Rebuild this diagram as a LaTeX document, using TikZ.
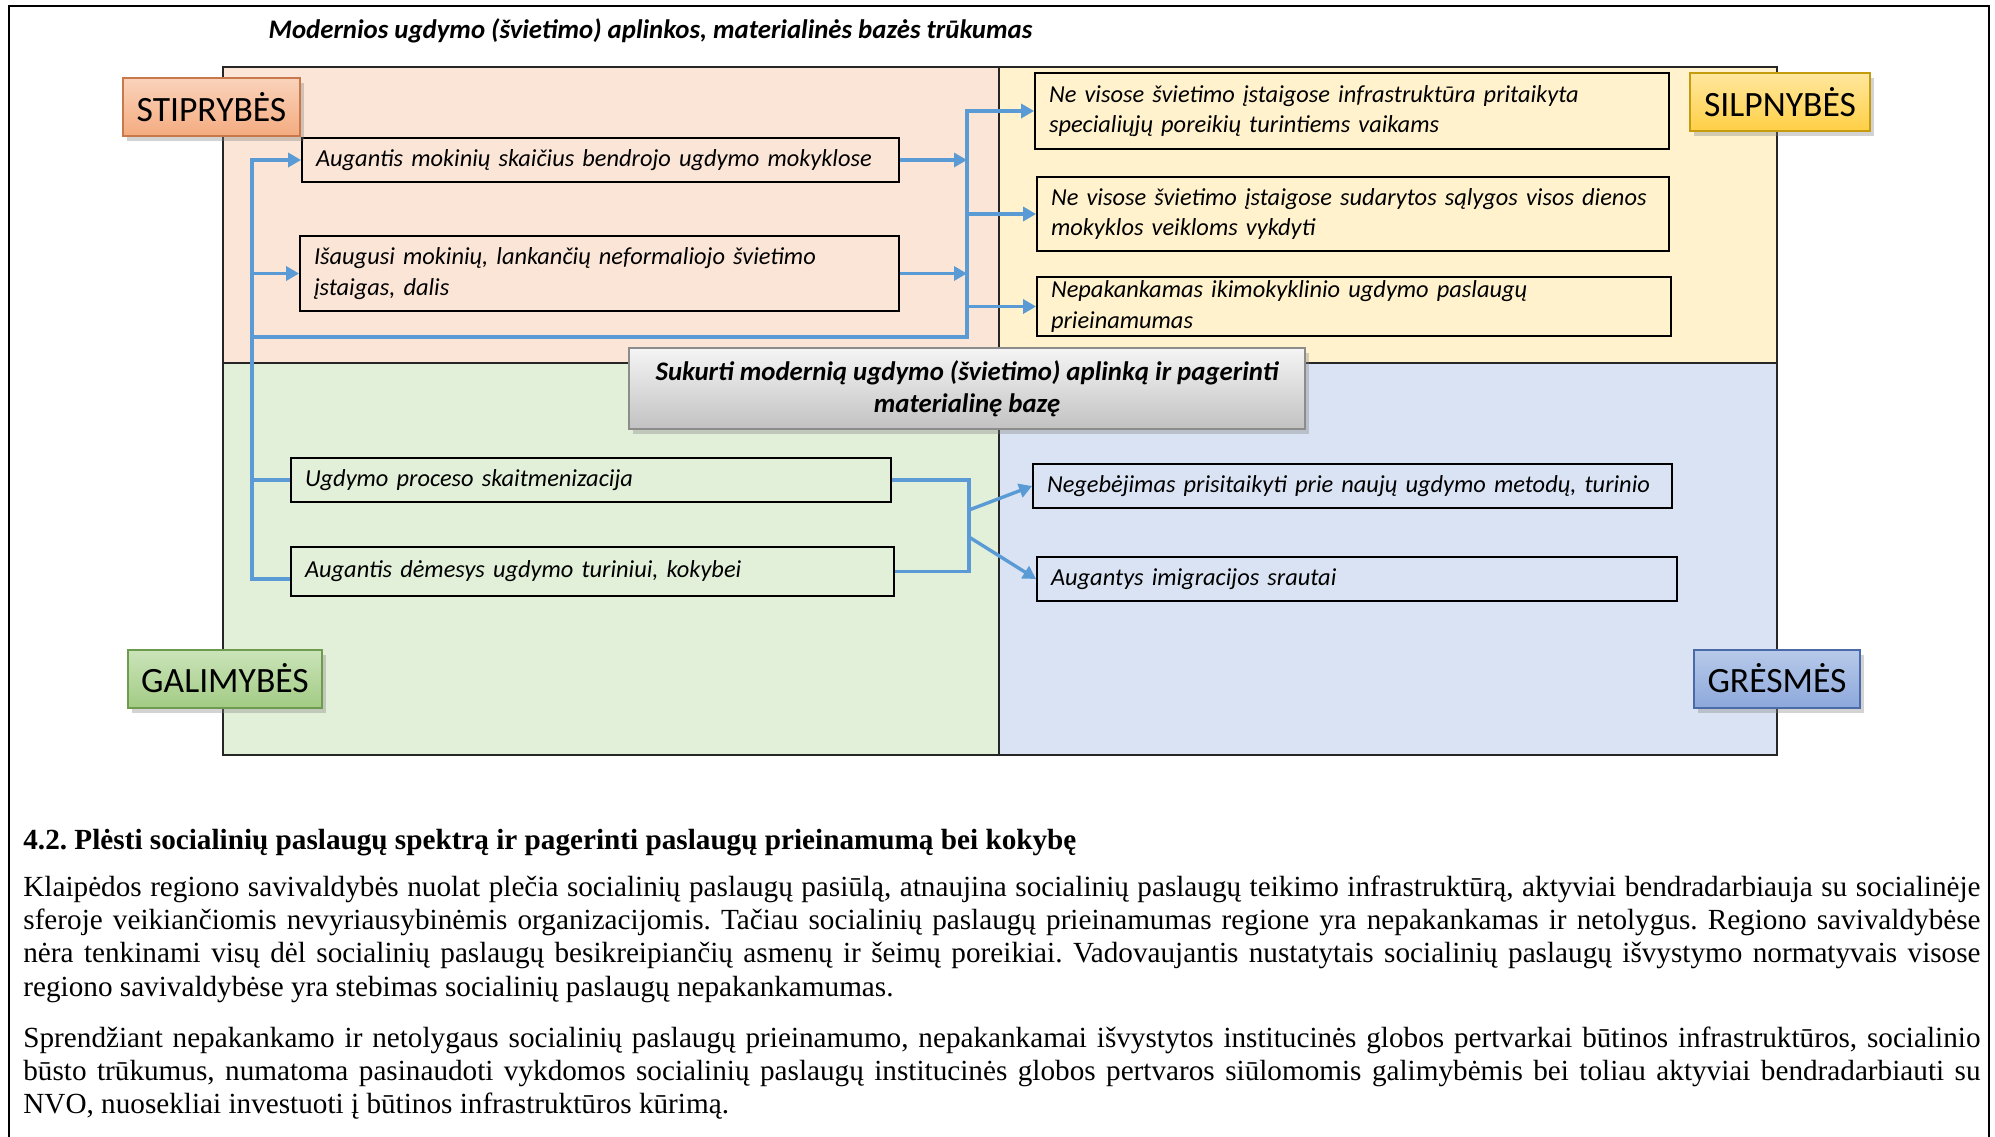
\documentclass[tikz,border=0pt]{standalone}
\usepackage{fontspec}
\setmainfont{Liberation Serif}
\newfontfamily\calibri{Carlito}
\usetikzlibrary{positioning, arrows.meta, shadows}

\definecolor{strcol}{HTML}{FBE5D6}
\definecolor{wkcol}{HTML}{FFF2CC}
\definecolor{opcol}{HTML}{E2F0D9}
\definecolor{thcol}{HTML}{DAE3F3}
\definecolor{arrblue}{HTML}{5B9BD5}
\definecolor{strtop}{HTML}{FAD3BB}\definecolor{strbot}{HTML}{F4AB80}\definecolor{strrim}{HTML}{C8784A}
\definecolor{wktop}{HTML}{FFE79E}\definecolor{wkbot}{HTML}{FFCF45}\definecolor{wkrim}{HTML}{C59B10}
\definecolor{optop}{HTML}{CBE4BA}\definecolor{opbot}{HTML}{A2CB84}\definecolor{oprim}{HTML}{6E9B4E}
\definecolor{thtop}{HTML}{B8CAEA}\definecolor{thbot}{HTML}{8DA8DB}\definecolor{thrim}{HTML}{4A6AA8}

\tikzset{quad/.style={draw=black!85, line width=0.9pt}}
\tikzset{tbox/.style 2 args={draw, line width=0.9pt, inner xsep=7pt, inner ysep=0pt, text width=#1, minimum height=#2, align=left, font=\calibri\itshape\fontsize{12.2}{15.3}\selectfont}}
\tikzset{lbl/.style n args={3}{draw=#3, line width=1pt, top color=#1, bottom color=#2, minimum height=29pt, inner sep=0pt, font=\calibri\fontsize{17.8}{20}\selectfont, drop shadow={opacity=0.35, shadow xshift=2pt, shadow yshift=-2.5pt}}}
\tikzset{goalbox/.style={draw=black!45, line width=1pt, top color=black!4, bottom color=black!24, minimum width=338pt, minimum height=40.5pt, inner sep=0pt, align=center, font=\calibri\bfseries\itshape\fontsize{13.4}{16}\selectfont, drop shadow={opacity=0.35, shadow xshift=2pt, shadow yshift=-2.5pt}}}
\tikzset{conn/.style={draw=arrblue, line width=1.7pt}}
\tikzset{arr/.style={conn, -{Triangle[length=6.5pt, width=7pt]}}}
\tikzset{body/.style={inner sep=0pt, text width=978.5pt, align=justify, font=\fontsize{14.6}{16.7}\selectfont\frenchspacing}}

\begin{document}
\begin{tikzpicture}[x=0.5pt, y=-0.5pt]
\useasboundingbox (0,0) rectangle (1995,1136);
% page frame
\draw[line width=1.1pt] (9,1140) -- (9,6) -- (1989,6) -- (1989,1140);

\node[font=\calibri\bfseries\itshape\fontsize{13.4}{15}\selectfont] (ttl) at (650.5,31) {Modernios ugdymo (švietimo) aplinkos, materialinės bazės trūkumas};

% SWOT quadrants
\path[quad, fill=strcol] (223,67) rectangle (999,363);
\path[quad, fill=wkcol] (999,67) rectangle (1777,363);
\path[quad, fill=opcol] (223,363) rectangle (999,755);
\path[quad, fill=thcol] (999,363) rectangle (1777,755);

\node[tbox={284.5pt}{22pt}] (S1) at (600.5,160) {Augantis mokinių skaičius bendrojo ugdymo mokyklose};
\node[tbox={285.5pt}{37.5pt}] (S2) at (599.5,273.5) {Išaugusi mokinių, lankančių neformaliojo švietimo\\įstaigas, dalis};
\node[tbox={303pt}{38pt}] (W1) at (1352,111) {Ne visose švietimo įstaigose infrastruktūra pritaikyta\\specialiųjų poreikių turintiems vaikams};
\node[tbox={302pt}{37pt}] (W2) at (1353,214) {Ne visose švietimo įstaigose sudarytos sąlygos visos dienos\\mokyklos veikloms vykdyti};
\node[tbox={303pt}{29.5pt}] (W3) at (1354,306.5) {Nepakankamas ikimokyklinio ugdymo paslaugų\\prieinamumas};
\node[tbox={286pt}{22pt}] (O1) at (591,480) {Ugdymo proceso skaitmenizacija};
\node[tbox={287.5pt}{24.5pt}] (O2) at (592.5,571.5) {Augantis dėmesys ugdymo turiniui, kokybei};
\node[tbox={305.5pt}{22pt}] (T1) at (1352.5,486) {Negebėjimas prisitaikyti prie naujų ugdymo metodų, turinio};
\node[tbox={306pt}{22pt}] (T2) at (1357,579) {Augantys imigracijos srautai};

% connectors
\coordinate (lb) at (252,160);
\coordinate (rb) at (967,337);
\coordinate (rb2) at (969,573);
\coordinate (fk1) at (969,510);
\coordinate (fk2) at (969,537);
\draw[arr] ([yshift=-3.75pt]O2.west) -| (lb) -- (S1.west);
\draw[arr] (S2.west -| lb) -- (S2.west);
\draw[conn] (O1.west -| lb) -- (O1.west);
\draw[arr] (lb |- rb) -- (rb) |- (W1.west);
\draw[arr] (S1.east) -- (S1.east -| rb);
\draw[arr] (S2.east) -- (S2.east -| rb);
\draw[arr] (W2.west -| rb) -- (W2.west);
\draw[arr] (W3.west -| rb) -- (W3.west);
\draw[conn] (O1.east) -| (rb2);
\draw[conn] (O2.east) -- (O2.east -| rb2);
\draw[arr] (fk1) -- (T1.west);
\draw[arr] (fk2) -- (T2.west);

\node[goalbox] (goal) at (967,388.5) {Sukurti modernią ugdymo (švietimo) aplinką ir pagerinti\\materialinę bazę};

\node[lbl={strtop}{strbot}{strrim}, minimum width=88.5pt] (str) at (211.5,107) {STIPRYBĖS};
\node[lbl={wktop}{wkbot}{wkrim}, minimum width=90pt] (wk) at (1780,102) {SILPNYBĖS};
\node[lbl={optop}{opbot}{oprim}, minimum width=97pt] (op) at (225,678.5) {GALIMYBĖS};
\node[lbl={thtop}{thbot}{thrim}, minimum width=83pt] (th) at (1777,678.5) {GRĖSMĖS};

% text below the figure
\node[body, anchor=base west] (h42) at (23,849) {\bfseries 4.2. Plėsti socialinių paslaugų spektrą ir pagerinti paslaugų prieinamumą bei kokybę};
\node[body, anchor=base west] (p1) at (23,896) {Klaipėdos regiono savivaldybės nuolat plečia socialinių paslaugų pasiūlą, atnaujina socialinių paslaugų teikimo infrastruktūrą, aktyviai bendradarbiauja su socialinėje\linebreak sferoje veikiančiomis nevyriausybinėmis organizacijomis. Tačiau socialinių paslaugų prieinamumas regione yra nepakankamas ir netolygus. Regiono savivaldybėse\linebreak nėra tenkinami visų dėl socialinių paslaugų besikreipiančių asmenų ir šeimų poreikiai. Vadovaujantis nustatytais socialinių paslaugų išvystymo normatyvais visose\linebreak regiono savivaldybėse yra stebimas socialinių paslaugų nepakankamumas.};
\node[body, anchor=base west] (p2) at (23,1047) {Sprendžiant nepakankamo ir netolygaus socialinių paslaugų prieinamumo, nepakankamai išvystytos institucinės globos pertvarkai būtinos infrastruktūros, socialinio\linebreak būsto trūkumus, numatoma pasinaudoti vykdomos socialinių paslaugų institucinės globos pertvaros siūlomomis galimybėmis bei toliau aktyviai bendradarbiauti su\linebreak NVO, nuosekliai investuoti į būtinos infrastruktūros kūrimą.};
\end{tikzpicture}
\end{document}
